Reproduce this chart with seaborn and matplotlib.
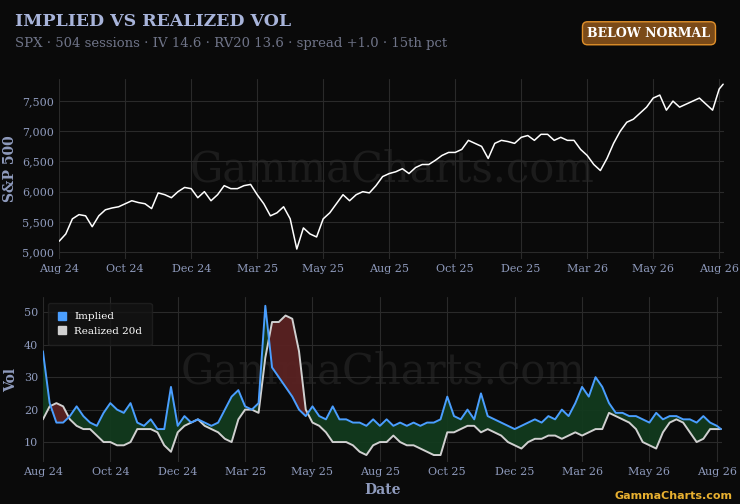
import numpy as np
import pandas as pd
import matplotlib
matplotlib.use("Agg")
import matplotlib.pyplot as plt
from matplotlib.lines import Line2D
import seaborn as sns

sessions = list(range(0, 501, 5)) + [503]
spx = [5180,5300,5550,5620,5600,5420,5600,5700,5730,5750,5800,5850,5820,5800,5720,5980,5950,5900,6000,6070,
       6050,5900,6000,5850,5950,6100,6050,6050,6100,6120,5950,5800,5600,5650,5750,5550,5050,5400,5300,5250,
       5550,5650,5800,5950,5850,5950,6000,5980,6100,6250,6300,6330,6380,6300,6400,6450,6450,6520,6600,6650,
       6650,6700,6850,6800,6750,6550,6800,6850,6830,6800,6900,6930,6850,6950,6950,6850,6900,6850,6850,6700,
       6600,6450,6350,6550,6800,7000,7150,7200,7300,7400,7550,7600,7350,7500,7400,7450,7500,7550,7450,7350,
       7700,7780]
implied = [38,22,16,16,18,21,18,16,15,19,22,20,19,22,16,15,17,14,14,27,15,18,16,17,16,15,16,20,24,26,
           21,20,22,52,33,30,27,24,20,18,21,18,17,21,17,17,16,16,15,17,15,17,15,16,15,16,15,16,16,17,
           24,18,17,20,17,25,18,17,16,15,14,15,16,17,16,18,17,20,18,22,27,24,30,27,22,19,19,18,18,17,
           16,19,17,18,18,17,17,16,18,16,15,14]
realized = [17,21,22,21,17,15,14,14,12,10,10,9,9,10,14,14,14,13,9,7,13,15,16,17,15,14,13,11,10,17,
            20,20,19,36,47,47,49,48,38,20,16,15,13,10,10,10,9,7,6,9,10,10,12,10,9,9,8,7,6,6,
            13,13,14,15,15,13,14,13,12,10,9,8,10,11,11,12,12,11,12,13,12,13,14,14,19,18,17,16,14,10,
            9,8,13,16,17,16,13,10,11,14,14,14]
tick_pos = list(range(0, 501, 50))
tick_labels = ["Aug 24","Oct 24","Dec 24","Mar 25","May 25","Aug 25","Oct 25","Dec 25","Mar 26","May 26","Aug 26"]

df = pd.DataFrame({"s": sessions, "spx": spx, "iv": implied, "rv": realized})

BG = "#0a0a0a"
TXT = "#8f9bbd"
sns.set_theme(style="dark")
plt.rcParams["font.family"] = ["DejaVu Serif"]
fig = plt.figure(figsize=(7.4, 5.04), dpi=100, facecolor=BG)

def style(ax):
    ax.set_facecolor(BG)
    for sp in ax.spines.values():
        sp.set_visible(False)
    ax.grid(True, color="#2a2a2a", lw=0.8)
    ax.tick_params(colors=TXT, labelsize=8, length=0)
    ax.set_xticks(tick_pos)
    ax.set_xticklabels(tick_labels)
    ax.set_xlim(0, 504)

ax1 = fig.add_axes([0.08, 0.486, 0.899, 0.357])
style(ax1)
sns.lineplot(data=df, x="s", y="spx", ax=ax1, color="white", lw=1.1)
ax1.set_ylim(4884, 7864)
ax1.set_yticks([5000,5500,6000,6500,7000,7500])
ax1.set_yticklabels(["5,000","5,500","6,000","6,500","7,000","7,500"])
ax1.set_xlabel("")
ax1.set_ylabel("S&P 500", color=TXT, fontsize=10, fontweight="bold")
ax1.text(0.5, 0.5, "GammaCharts.com", transform=ax1.transAxes, ha="center", va="center",
         fontsize=30, color="#1c1c1c", zorder=0)

ax2 = fig.add_axes([0.058, 0.083, 0.918, 0.327])
style(ax2)
iv = np.array(implied, float); rv = np.array(realized, float); s = np.array(sessions, float)
ax2.fill_between(s, iv, rv, where=iv >= rv, interpolate=True, color="#123a1e", alpha=0.95, lw=0)
ax2.fill_between(s, iv, rv, where=iv < rv, interpolate=True, color="#5a2222", alpha=0.95, lw=0)
sns.lineplot(data=df, x="s", y="rv", ax=ax2, color="#d0d0d0", lw=1.4, legend=False)
sns.lineplot(data=df, x="s", y="iv", ax=ax2, color="#4a9eff", lw=1.4, legend=False)
ax2.set_ylim(3.8, 54.6)
ax2.set_yticks([10,20,30,40,50])
ax2.set_xlabel("Date", color=TXT, fontsize=10, fontweight="bold")
ax2.set_ylabel("Vol", color=TXT, fontsize=10, fontweight="bold")
handles = [Line2D([], [], ls="", marker="s", ms=6, color="#4a9eff"),
           Line2D([], [], ls="", marker="s", ms=6, color="#d0d0d0")]
ax2.legend(handles, ["Implied", "Realized 20d"], loc="upper left", fontsize=7.5, facecolor="#141414",
           edgecolor="#222222", labelcolor="white", handlelength=0.8, borderpad=0.9)
ax2.text(0.5, 0.55, "GammaCharts.com", transform=ax2.transAxes, ha="center", va="center",
         fontsize=30, color="#1c1c1c", zorder=0)

fig.text(0.02, 0.957, "IMPLIED VS REALIZED VOL", color="#a8b4da", fontsize=12.5, fontweight="bold", va="center")
fig.text(0.02, 0.914, "SPX · 504 sessions · IV 14.6 · RV20 13.6 · spread +1.0 · 15th pct",
         color="#6f7488", fontsize=9.5, va="center")
fig.text(0.877, 0.934, "BELOW NORMAL", color="white", fontsize=9, fontweight="bold", ha="center", va="center",
         bbox=dict(boxstyle="round,pad=0.4", fc="#7a4a18", ec="#e0902a", lw=1))
fig.text(0.99, 0.01, "GammaCharts.com", color="#e8b030", fontsize=8, fontweight="bold", ha="right",
         family="DejaVu Sans")
fig.savefig("out.png", dpi=100, facecolor=BG)
